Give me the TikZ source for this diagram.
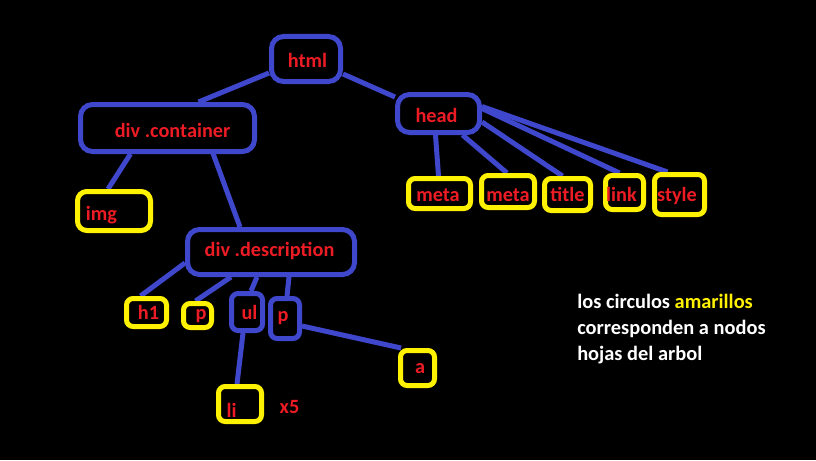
\documentclass[tikz,border=0pt]{standalone}
\usepackage{fontspec}
\setmainfont{Carlito}
\usetikzlibrary{fit,calc}
\definecolor{pblue}{RGB}{63,72,204}
\definecolor{pyellow}{RGB}{255,242,0}
\definecolor{pred}{RGB}{237,28,36}
\pgfdeclarelayer{bglayer}
\pgfsetlayers{bglayer,main}
\begin{document}
\begin{tikzpicture}[x=0.75pt,y=-0.75pt,
  bigbox/.style={draw=pblue, line width=3.75pt, rounded corners=9pt, inner sep=0pt},
  smallbox/.style={draw=pblue, line width=3.75pt, rounded corners=5pt, inner sep=0pt},
  leafbox/.style={draw=pyellow, line width=3.75pt, rounded corners=5pt, inner sep=0pt},
  lbl/.style={text=pred, font=\fontsize{15.2}{18}\selectfont\bfseries, inner sep=0pt, anchor=base},
  legtxt/.style={text=white, font=\fontsize{15.3}{18}\selectfont\bfseries, inner sep=0pt, anchor=base west},
  conn/.style={draw=pblue, line width=3.75pt}]
\begin{pgfonlayer}{bglayer}
\fill[black] (0,0) rectangle (816,460);
\end{pgfonlayer}
\useasboundingbox (0,0) rectangle (816,460);
% boxes
\node[bigbox, fit={(271.5,36.5) (340.5,81.5)}] (html) {};
\node[bigbox, fit={(80.5,104.5) (254.5,151.5)}] (container) {};
\node[bigbox, fit={(397.5,94.5) (479.5,132.5)}] (head) {};
\node[leafbox, rounded corners=7pt, fit={(77.5,191.5) (150.5,230.5)}] (img) {};
\node[leafbox, fit={(408.5,178.5) (470.5,208.5)}] (meta1) {};
\node[leafbox, fit={(481.5,175.5) (534.5,207.5)}] (meta2) {};
\node[leafbox, fit={(544.5,178.5) (590.5,210.5)}] (title) {};
\node[leafbox, fit={(605.5,175.5) (643.5,209.5)}] (link) {};
\node[leafbox, fit={(654.5,174.5) (704.5,214.5)}] (style) {};
\node[bigbox, fit={(187.5,229.5) (354.5,274.5)}] (desc) {};
\node[leafbox, fit={(126.5,298.5) (166.5,326.5)}] (h1) {};
\node[leafbox, fit={(183.5,303.5) (211.5,327.5)}] (p1) {};
\node[smallbox, fit={(231.5,293.5) (262.5,330.5)}] (ul) {};
\node[smallbox, fit={(270.5,298.5) (299.5,338.5)}] (p2) {};
\node[leafbox, fit={(400.5,350.5) (434.5,385.5)}] (a) {};
\node[leafbox, fit={(218.5,386.5) (261.5,421.5)}] (li) {};
% connectors (behind the boxes)
\begin{pgfonlayer}{bglayer}
\draw[conn] ($(html.west)+(0,14)$) -- ($(container.north)+(31,0)$);
\draw[conn] ($(html.east)+(0,15)$) -- ($(head.north west)+(0,5)$);
\draw[conn] ($(container.south)+(-37,0)$) -- ($(img.north)+(-6,0)$);
\draw[conn] ($(container.south)+(45,-2)$) -- ($(desc.north)+(-31,0)$);
\draw[conn] ($(head.south)+(-3,0)$) -- ($(meta1.north)+(-1,0)$);
\draw[conn] ($(head.south)+(24,0)$) -- ($(meta2.north)+(-1,0)$);
\draw[conn] ($(head.east)+(0,8.5)$) -- ($(title.north)+(-5,0)$);
\draw[conn] ($(head.east)+(0,-5)$) -- ($(link.north)+(-5,0)$);
\draw[conn] ($(head.east)+(0,-7)$) -- ($(style.north)+(-12,0)$);
\draw[conn] ($(desc.west)+(0,11)$) -- ($(h1.north)+(-6,0)$);
\draw[conn] ($(desc.south)+(-40,0)$) -- ($(p1.north)+(-2,0)$);
\draw[conn] ($(desc.south)+(-14,0)$) -- ($(ul.north)+(4,0)$);
\draw[conn] ($(desc.south)+(18,0)$) -- ($(p2.north)+(2,0)$);
\draw[conn] ($(p2.east)+(0,7.5)$) -- ($(a.north west)+(3,0)$);
\draw[conn] ($(ul.south)+(-4,0)$) -- ($(li.north)+(-3,0)$);
\end{pgfonlayer}
% labels
\node[lbl] (html-t) at (307.5,67) {html};
\node[lbl] (container-t) at (172.5,137) {div .container};
\node[lbl] (head-t) at (436.5,122) {head};
\node[lbl] (img-t) at (101.5,220) {img};
\node[lbl] (meta1-t) at (438,201) {meta};
\node[lbl] (meta2-t) at (508,201) {meta};
\node[lbl] (title-t) at (567.5,201) {title};
\node[lbl] (link-t) at (621.5,201) {link};
\node[lbl] (style-t) at (677,201) {style};
\node[lbl] (desc-t) at (269.5,256) {div .description};
\node[lbl] (h1-t) at (148.5,319) {h1};
\node[lbl] (p1-t) at (201,319) {p};
\node[lbl] (ul-t) at (249.5,319) {ul};
\node[lbl] (p2-t) at (283,321) {p};
\node[lbl] (a-t) at (420,373) {a};
\node[lbl] (li-t) at (231.5,417) {li};
\node[lbl] (x5) at (289.5,413) {x5};
% legend
\node[legtxt] (leg1) at (577,308) {los circulos \textcolor{pyellow}{amarillos}};
\node[legtxt] (leg2) at (577,334) {corresponden a nodos};
\node[legtxt] (leg3) at (577,360) {hojas del arbol};
\end{tikzpicture}
\end{document}
